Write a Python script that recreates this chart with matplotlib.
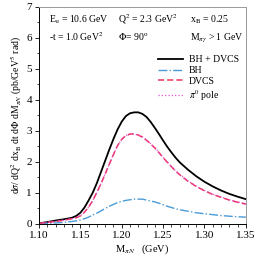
import matplotlib
matplotlib.use("Agg")
import matplotlib.pyplot as plt
from matplotlib.ticker import MultipleLocator

plt.rcParams['font.family'] = ['Liberation Serif', 'DejaVu Serif']
plt.rcParams['mathtext.fontset'] = 'stix'

# invariant mass of the pi N system (GeV)
m_piN = [1.100, 1.110, 1.120, 1.130, 1.140, 1.145, 1.150, 1.155, 1.160, 1.165,
         1.170, 1.175, 1.180, 1.185, 1.190, 1.195, 1.200, 1.205, 1.210, 1.215,
         1.220, 1.225, 1.230, 1.235, 1.240, 1.245, 1.250, 1.255, 1.260, 1.265,
         1.270, 1.280, 1.290, 1.300, 1.310, 1.320, 1.330, 1.340, 1.350]

bh_dvcs = [0.02, 0.06, 0.11, 0.15, 0.20, 0.26, 0.36, 0.53, 0.76, 1.01,
           1.32, 1.68, 2.04, 2.40, 2.74, 3.05, 3.30, 3.48, 3.57, 3.60,
           3.60, 3.55, 3.45, 3.29, 3.10, 2.90, 2.69, 2.49, 2.31, 2.14,
           1.99, 1.75, 1.54, 1.36, 1.21, 1.08, 0.97, 0.88, 0.80]

bh = [0.01, 0.02, 0.03, 0.05, 0.08, 0.10, 0.13, 0.17, 0.22, 0.29,
      0.35, 0.42, 0.50, 0.57, 0.63, 0.69, 0.73, 0.76, 0.78, 0.80,
      0.80, 0.80, 0.77, 0.74, 0.71, 0.67, 0.62, 0.57, 0.53, 0.49,
      0.46, 0.41, 0.36, 0.33, 0.30, 0.27, 0.25, 0.23, 0.22]

dvcs = [0.02, 0.05, 0.08, 0.12, 0.17, 0.20, 0.26, 0.38, 0.54, 0.76,
        1.02, 1.30, 1.61, 1.93, 2.24, 2.53, 2.73, 2.85, 2.90, 2.90,
        2.87, 2.80, 2.70, 2.58, 2.45, 2.30, 2.14, 1.99, 1.85, 1.71,
        1.59, 1.38, 1.21, 1.07, 0.95, 0.86, 0.77, 0.70, 0.64]

pi0_pole = [0.02, 0.05, 0.08, 0.12, 0.17, 0.20, 0.26, 0.38, 0.54, 0.76,
            1.02, 1.30, 1.61, 1.93, 2.24, 2.53, 2.73, 2.85, 2.90, 2.90,
            2.87, 2.81, 2.71, 2.59, 2.46, 2.31, 2.15, 2.00, 1.86, 1.72,
            1.60, 1.39, 1.22, 1.08, 0.96, 0.87, 0.78, 0.71, 0.65]

fig = plt.figure(figsize=(2.58, 2.58), dpi=100)
ax = fig.add_axes([0.151, 0.132, 0.802, 0.841])

ax.plot(m_piN, bh_dvcs, color='black', lw=1.3, label='BH + DVCS')
ax.plot(m_piN, bh, color='#4a9bd6', lw=1.0, ls='-.', label='BH')
ax.plot(m_piN, dvcs, color='#ee3355', lw=1.1, ls=(0, (4, 2)), label='DVCS')
ax.plot(m_piN, pi0_pole, color='#e050e0', lw=0.9, ls=':', label=r'$\pi^0$ pole')

ax.set_xlim(1.10, 1.35)
ax.set_ylim(0, 7)
ax.xaxis.set_major_locator(MultipleLocator(0.05))
ax.xaxis.set_minor_locator(MultipleLocator(0.01))
ax.yaxis.set_major_locator(MultipleLocator(1))
ax.yaxis.set_minor_locator(MultipleLocator(0.5))
ax.set_xticks([1.10, 1.15, 1.20, 1.25, 1.30, 1.35])
ax.set_xticklabels(['1.10', '1.15', '1.20', '1.25', '1.30', '1.35'])
ax.tick_params(which='major', direction='out', length=3, width=0.6, labelsize=8, pad=2)
ax.tick_params(which='minor', direction='out', length=1.8, width=0.5)
for s in ax.spines.values():
    s.set_linewidth(0.7)
ax.spines['right'].set_color('#999999')
ax.spines['top'].set_color('#999999')

ax.set_xlabel(r'M$_{\pi N}$   (GeV)', fontsize=7.5, labelpad=2)
ax.set_ylabel(r'd$\sigma$/ dQ$^2$ dx$_{\rm B}$ dt d$\Phi$ dM$_{\pi N}$ (pb/GeV$^5$ rad)',
              fontsize=7, labelpad=2)

fs = 7
ax.text(0.05, 0.93, r'E$_{\rm e}$ = 10.6 GeV', transform=ax.transAxes, fontsize=fs)
ax.text(0.38, 0.93, r'Q$^2$ = 2.3 GeV$^2$', transform=ax.transAxes, fontsize=fs)
ax.text(0.73, 0.93, r'x$_{\rm B}$ = 0.25', transform=ax.transAxes, fontsize=fs)
ax.text(0.05, 0.845, r'-t = 1.0 GeV$^2$', transform=ax.transAxes, fontsize=fs)
ax.text(0.38, 0.845, r'$\Phi$= 90$^{\rm o}$', transform=ax.transAxes, fontsize=fs)
ax.text(0.73, 0.845, r'M$_{\pi\gamma}$ > 1 GeV', transform=ax.transAxes, fontsize=fs)

ax.legend(loc='upper right', bbox_to_anchor=(1.0, 0.81), frameon=False, fontsize=7,
          handlelength=2.6, handletextpad=0.6, labelspacing=0.2, borderaxespad=0.3)

fig.savefig('out.png', dpi=100)
